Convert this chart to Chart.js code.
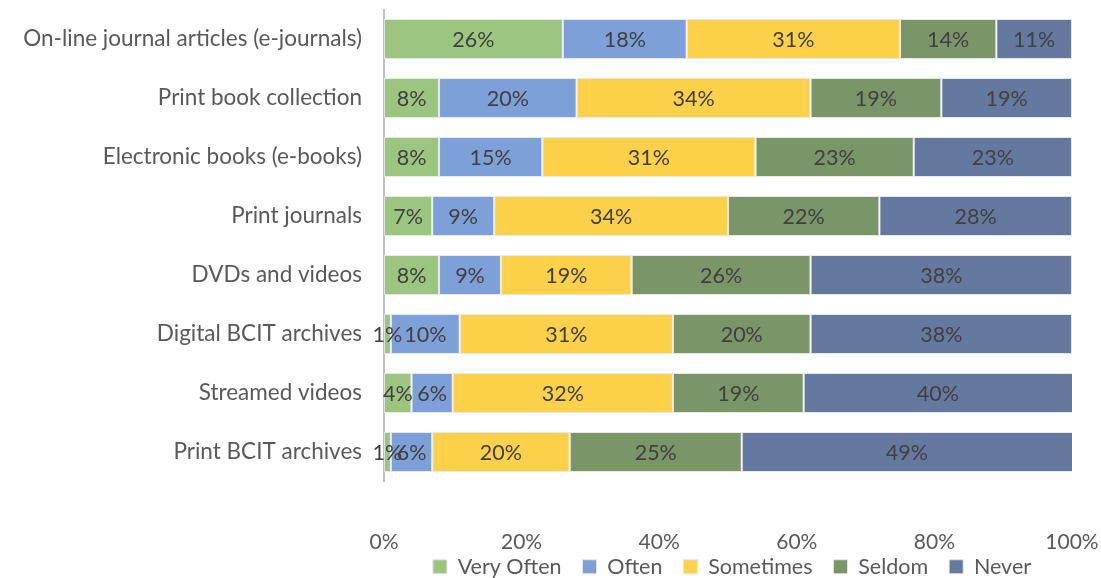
<!DOCTYPE html>
<html>
<head>
<meta charset="utf-8">
<script src="https://cdn.jsdelivr.net/npm/chart.js@4.4.1/dist/chart.umd.min.js"></script>
<style>
  html, body { margin: 0; padding: 0; background: #fff; overflow: hidden; }
  #wrap { width: 1101px; height: 612px; }
</style>
</head>
<body>
<div id="wrap"><canvas id="myChart"></canvas></div>
<script>
const categories = [
    'On-line journal articles (e-journals)',
    'Print book collection',
    'Electronic books (e-books)',
    'Print journals',
    'DVDs and videos',
    'Digital BCIT archives',
    'Streamed videos',
    'Print BCIT archives'
];
const veryOften = [26, 8, 8, 7, 8, 1, 4, 1];
const often     = [18, 20, 15, 9, 9, 10, 6, 6];
const sometimes = [31, 34, 31, 34, 19, 31, 32, 20];
const seldom    = [14, 19, 23, 22, 26, 20, 19, 25];
const never     = [11, 19, 23, 28, 38, 38, 40, 49];
const xTicks = [0, 20, 40, 60, 80, 100];

const FONT = 'Lato, "Open Sans", sans-serif';

// writes the percentage in the middle of every segment
const segmentLabels = {
    id: 'segmentLabels',
    afterDatasetsDraw(chart) {
        const ctx = chart.ctx;
        const area = chart.chartArea;
        ctx.save();
        ctx.font = '21.5px ' + FONT;
        ctx.fillStyle = '#404040';
        ctx.textAlign = 'center';
        ctx.textBaseline = 'middle';
        chart.data.datasets.forEach((ds, i) => {
            chart.getDatasetMeta(i).data.forEach((bar, j) => {
                const right = Math.min(bar.x, area.right);
                const cx = (right + bar.base) / 2;
                ctx.fillText(ds.data[j] + '%', cx, bar.y + 1);
            });
        });
        ctx.restore();
    }
};

// legend sits centred under the plot area, tucked just below the tick labels
const legendUnderPlot = {
    id: 'legendUnderPlot',
    afterLayout(chart) {
        const lg = chart.legend;
        const shift = (chart.chartArea.left + chart.chartArea.right) / 2 - (lg.left + lg.right) / 2 + 4;
        lg.left += shift;
        lg.right += shift;
        const h = lg.bottom - lg.top;
        lg.top = 535;
        lg.bottom = 535 + h;
    }
};

function series(label, data, color) {
    return {
        label: label,
        data: data,
        backgroundColor: color,
        borderColor: 'rgba(230,230,230,0.9)',
        borderWidth: 1,
        borderSkipped: false,
        categoryPercentage: 1,
        barPercentage: 0.68,
        clip: 0
    };
}

new Chart(document.getElementById('myChart'), {
    type: 'bar',
    data: {
        labels: categories,
        datasets: [
            series('Very Often', veryOften, '#9CC67F'),
            series('Often', often, '#7EA0D8'),
            series('Sometimes', sometimes, '#FED14B'),
            series('Seldom', seldom, '#7A9567'),
            series('Never', never, '#6579A0')
        ]
    },
    options: {
        indexAxis: 'y',
        responsive: true,
        maintainAspectRatio: false,
        animation: false,
        layout: { padding: { top: 0, right: 29, left: 0, bottom: 0 } },
        scales: {
            x: {
                stacked: true,
                min: 0,
                max: 100,
                grid: { display: false, drawTicks: true, tickLength: 48 },
                border: { display: false },
                afterBuildTicks(scale) {
                    scale.ticks = xTicks.map(v => ({ value: v }));
                },
                afterFit(scale) { scale.height = 78; },
                ticks: {
                    padding: 0,
                    color: '#595959',
                    font: { family: FONT, size: 21 },
                    callback: v => v + '%'
                }
            },
            y: {
                stacked: true,
                grid: { display: false, drawTicks: true, tickLength: 22 },
                border: { display: true, color: '#BFBFBF', width: 2 },
                afterFit(scale) { scale.width = 384; },
                ticks: {
                    padding: 0,
                    color: '#595959',
                    font: { family: FONT, size: 22.5, lineHeight: 0.85 }
                }
            }
        },
        plugins: {
            legend: {
                position: 'bottom',
                labels: {
                    boxWidth: 14,
                    boxHeight: 14,
                    padding: 21,
                    color: '#595959',
                    font: { family: FONT, size: 21.5 }
                }
            },
            tooltip: { enabled: false }
        }
    },
    plugins: [segmentLabels, legendUnderPlot]
});
</script>
</body>
</html>
